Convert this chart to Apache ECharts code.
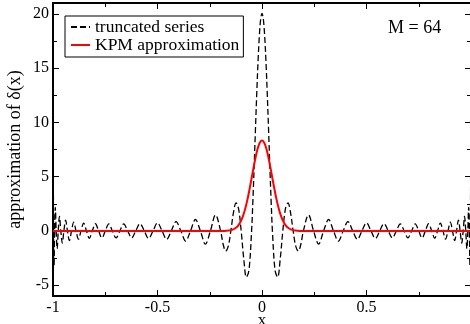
<!DOCTYPE html>
<html>
<head>
<meta charset="utf-8">
<script src="https://cdn.jsdelivr.net/npm/echarts@6/dist/echarts.min.js"></script>
<style>html,body{margin:0;padding:0;background:#fff}#c{width:470px;height:324px}</style>
</head>
<body>
<div id="c"></div>
<script>
// truncated Chebyshev series (M = 64)
const truncX = [
-1, -0.9997, -0.9988, -0.9972, -0.9950, -0.9922, -0.9888, -0.9848, -0.9802, -0.9749, -0.9691, -0.9626, -0.9556, -0.9479, -0.9397, -0.9309, -0.9215, -0.9115, -0.9010, -0.8899, -0.8782, -0.8660, -0.8533, -0.8400, -0.8262, -0.8119, -0.7971, -0.7818, -0.7660, -0.7498, -0.7331, -0.7159, -0.6982, -0.6802, -0.6617, -0.6428, -0.6235, -0.6038, -0.5837, -0.5633, -0.5425, -0.5214, -0.5, -0.4783, -0.4562, -0.4339, -0.4113, -0.3884, -0.3653, -0.3420, -0.3185, -0.2948, -0.2708, -0.2468, -0.2225,
-0.1981, -0.1859, -0.1736, -0.1614, -0.1490, -0.1367, -0.1243, -0.1120, -0.0996, -0.0872, -0.0747, -0.0623, -0.0498, -0.0436, -0.0374, -0.0312, -0.0249, -0.0187, -0.0125, -0.0062,
0,
0.0062, 0.0125, 0.0187, 0.0249, 0.0312, 0.0374, 0.0436, 0.0498, 0.0623, 0.0747, 0.0872, 0.0996, 0.1120, 0.1243, 0.1367, 0.1490, 0.1614, 0.1736, 0.1859, 0.1981,
0.2225, 0.2468, 0.2708, 0.2948, 0.3185, 0.3420, 0.3653, 0.3884, 0.4113, 0.4339, 0.4562, 0.4783, 0.5, 0.5214, 0.5425, 0.5633, 0.5837, 0.6038, 0.6235, 0.6428, 0.6617, 0.6802, 0.6982, 0.7159, 0.7331, 0.7498, 0.7660, 0.7818, 0.7971, 0.8119, 0.8262, 0.8400, 0.8533, 0.8660, 0.8782, 0.8899, 0.9010, 0.9115, 0.9215, 0.9309, 0.9397, 0.9479, 0.9556, 0.9626, 0.9691, 0.9749, 0.9802, 0.9848, 0.9888, 0.9922, 0.9950, 0.9972, 0.9988, 0.9997, 1
];
const truncY = [
-8, 0, 6.39, 0, -3.21, 0, 2.16, 0, -1.64, 0, 1.33, 0, -1.13, 0, 0.99, 0, -0.89, 0, 0.81, 0, -0.76, 0, 0.72, 0, -0.68, 0, 0.66, 0, -0.65, 0, 0.64, 0, -0.64, 0, 0.64, 0, -0.65, 0, 0.67, 0, -0.70, 0, 0.74, 0, -0.78, 0, 0.85, 0, -0.94, 0, 1.05, 0, -1.22, 0, 1.47,
0, -1.23, -1.86, -1.41, 0, 1.66, 2.58, 2.02, 0, -2.59, -4.27, -3.62, 0, 2.79, 6.02, 9.43, 12.77, 15.72, 18.05, 19.54,
20.05,
19.54, 18.05, 15.72, 12.77, 9.43, 6.02, 2.79, 0, -3.62, -4.27, -2.59, 0, 2.02, 2.58, 1.66, 0, -1.41, -1.86, -1.23, 0,
1.47, 0, -1.22, 0, 1.05, 0, -0.94, 0, 0.85, 0, -0.78, 0, 0.74, 0, -0.70, 0, 0.67, 0, -0.65, 0, 0.64, 0, -0.64, 0, 0.64, 0, -0.65, 0, 0.66, 0, -0.68, 0, 0.72, 0, -0.76, 0, 0.81, 0, -0.89, 0, 0.99, 0, -1.13, 0, 1.33, 0, -1.64, 0, 2.16, 0, -3.21, 0, 6.39, 0, -8
];
// KPM (Jackson kernel) approximation
const kpmX = [-1, -0.2, -0.18, -0.16, -0.14, -0.12, -0.11, -0.10, -0.09, -0.08, -0.07, -0.06, -0.05, -0.04, -0.03, -0.02, -0.01, 0, 0.01, 0.02, 0.03, 0.04, 0.05, 0.06, 0.07, 0.08, 0.09, 0.10, 0.11, 0.12, 0.14, 0.16, 0.18, 0.2, 1];
const kpmY = [0, 0, 0, 0.03, 0.12, 0.36, 0.60, 0.94, 1.43, 2.07, 2.86, 3.80, 4.83, 5.87, 6.84, 7.63, 8.14, 8.32, 8.14, 7.63, 6.84, 5.87, 4.83, 3.80, 2.86, 2.07, 1.43, 0.94, 0.60, 0.36, 0.12, 0.03, 0, 0, 0];

const seriesNames = ['truncated series', 'KPM approximation'];
const yMajor = [-5, 0, 5, 10, 15, 20];
const yMinor = [-2.5, 2.5, 7.5, 12.5, 17.5];
const annotation = 'M = 64';

const FONT = 'Liberation Serif';
const zip = (a, b) => a.map((v, i) => [v, b[i]]);

const chart = echarts.init(document.getElementById('c'), null, {renderer: 'canvas'});
const axLine = {show: true, onZero: false, lineStyle: {color: '#000', width: 2}};
const xBase = {
  type: 'value', min: -1, max: 1, interval: 0.5,
  axisLine: axLine,
  axisTick: {show: true, inside: true, length: 6, lineStyle: {color: '#000', width: 1}},
  minorTick: {show: true, splitNumber: 2, length: 4, lineStyle: {color: '#000', width: 1}},
  splitLine: {show: false}, minorSplitLine: {show: false}
};
const yBase = {
  type: 'value', min: -6, max: 21,
  splitLine: {show: false}
};
chart.setOption({
  animation: false,
  grid: {left: 53, right: -1, top: 3, bottom: 28, containLabel: false, outerBoundsMode: 'none'},
  legend: {
    data: seriesNames, orient: 'vertical', left: 65, top: 16,
    backgroundColor: '#fff', borderColor: '#000', borderWidth: 1, borderRadius: 0,
    padding: [2, 4, 3, 5], itemGap: 0, itemWidth: 19, itemHeight: 14,
    itemStyle: {opacity: 0},
    textStyle: {fontFamily: FONT, fontSize: 17.5, color: '#000'}
  },
  xAxis: [
    Object.assign({}, xBase, {
      position: 'bottom',
      axisLabel: {show: true, margin: 4, showMaxLabel: false, fontFamily: FONT, fontSize: 16, color: '#000',
        formatter: v => String(v)},
      name: 'x', nameLocation: 'middle', nameGap: 16, nameMoveOverlap: false,
      nameTextStyle: {fontFamily: FONT, fontSize: 17, color: '#000', verticalAlign: 'top'}
    }),
    Object.assign({}, xBase, {position: 'top', axisLabel: {show: false}})
  ],
  yAxis: [
    Object.assign({}, yBase, {
      position: 'left', axisLine: axLine,
      axisTick: {show: true, inside: true, length: 6, customValues: yMajor, lineStyle: {color: '#000', width: 1}},
      axisLabel: {show: true, margin: 4, customValues: yMajor, fontFamily: FONT, fontSize: 16, color: '#000'},
      name: 'approximation of δ(x)', nameLocation: 'middle', nameGap: 29, nameMoveOverlap: false,
      nameTextStyle: {fontFamily: FONT, fontSize: 18, color: '#000'}
    }),
    Object.assign({}, yBase, {
      position: 'left', axisLine: {show: false, onZero: false},
      axisTick: {show: true, inside: true, length: 4, customValues: yMinor, lineStyle: {color: '#000', width: 1}},
      axisLabel: {show: false}
    }),
    Object.assign({}, yBase, {
      position: 'right', axisLine: axLine,
      axisTick: {show: true, inside: true, length: 6, customValues: yMajor, lineStyle: {color: '#000', width: 1}},
      axisLabel: {show: false}
    }),
    Object.assign({}, yBase, {
      position: 'right', axisLine: {show: false, onZero: false},
      axisTick: {show: true, inside: true, length: 4, customValues: yMinor, lineStyle: {color: '#000', width: 1}},
      axisLabel: {show: false}
    })
  ],
  graphic: [{
    type: 'text', left: 388, top: 19,
    style: {text: annotation, font: '18px "Liberation Serif"', fill: '#000'}
  }],
  series: [
    {
      name: seriesNames[0], type: 'line', xAxisIndex: 0, yAxisIndex: 0,
      data: zip(truncX, truncY), symbol: 'none', smooth: 0.35,
      lineStyle: {color: '#000', width: 1.3, type: [6, 3]}, itemStyle: {color: '#000'}
    },
    {
      name: seriesNames[1], type: 'line', xAxisIndex: 0, yAxisIndex: 0,
      data: zip(kpmX, kpmY), symbol: 'none', smooth: 0.4,
      lineStyle: {color: '#ff0000', width: 2}, itemStyle: {color: '#ff0000'}
    }
  ]
});
</script>
</body>
</html>
